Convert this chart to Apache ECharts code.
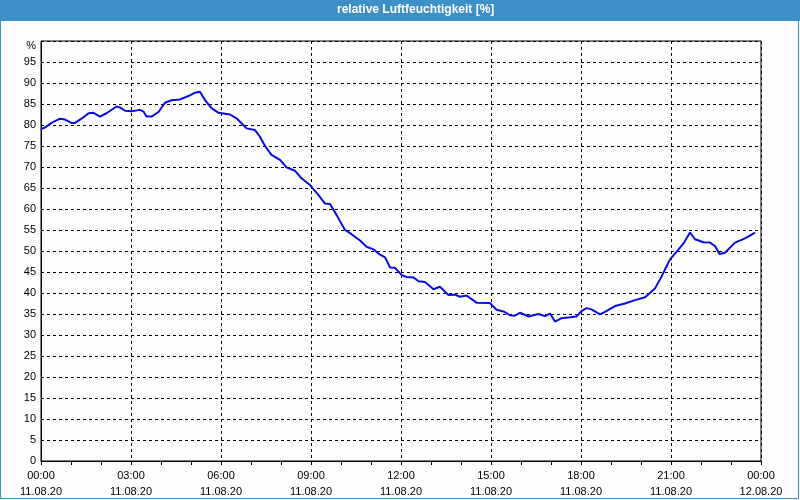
<!DOCTYPE html>
<html>
<head>
<meta charset="utf-8">
<script src="https://cdn.jsdelivr.net/npm/echarts@6/dist/echarts.min.js"></script>
<style>
html,body{margin:0;padding:0;background:#fdfefd;}
#c{width:800px;height:500px;}
</style>
</head>
<body>
<div id="c"></div>
<script>
// minutes since 11.08.20 00:00
var minutes = [0,8,21,38,48,61,68,81,95,105,118,131,151,158,168,181,198,205,211,221,235,248,261,278,295,308,318,328,341,355,368,378,391,401,411,428,438,448,461,478,491,508,521,538,555,568,578,591,608,621,638,651,665,675,688,698,708,721,731,745,755,768,785,798,815,828,838,851,871,898,911,925,938,948,958,975,995,1008,1018,1028,1041,1058,1071,1081,1091,1101,1118,1128,1148,1168,1188,1208,1228,1241,1258,1271,1285,1298,1308,1325,1338,1348,1357,1368,1388,1408,1428];
var humidity = [79.0,79.4,80.5,81.5,81.3,80.5,80.5,81.5,82.8,82.9,82.0,82.8,84.4,84.2,83.4,83.3,83.6,83.2,82.0,82.0,83.1,85.3,85.9,86.1,86.9,87.7,87.9,85.9,84.0,82.9,82.7,82.5,81.6,80.4,79.2,78.8,77.2,75.0,72.9,71.7,69.9,69.1,67.3,65.7,63.3,61.3,61.2,58.6,55.0,54.0,52.5,51.0,50.4,49.4,48.5,46.1,46.0,44.3,43.8,43.7,42.8,42.6,40.9,41.5,39.5,39.6,39.1,39.4,37.7,37.6,36.0,35.6,34.7,34.6,35.3,34.4,35.0,34.5,35.1,33.2,34.0,34.2,34.4,35.7,36.4,36.1,34.9,35.5,36.9,37.5,38.3,39.0,41.1,43.9,48.0,49.8,51.8,54.4,52.8,52.1,52.0,51.2,49.3,49.6,52.0,53.0,54.4];
var xTickLabels = ['00:00\n11.08.20','03:00\n11.08.20','06:00\n11.08.20','09:00\n11.08.20','12:00\n11.08.20','15:00\n11.08.20','18:00\n11.08.20','21:00\n11.08.20','00:00\n12.08.20'];
var titleText = 'relative Luftfeuchtigkeit [%]';
var yUnit = '%';

var seriesData = minutes.map(function(m, i){ return [m, humidity[i]]; });
var chart = echarts.init(document.getElementById('c'), null, {renderer:'canvas'});
var fontFam = '"Liberation Sans", Arial, sans-serif';
chart.setOption({
  animation: false,
  backgroundColor: '#fdfefd',
  graphic: [
    {type:'rect', shape:{x:0, y:0, width:800, height:21}, style:{fill:'#3d8fc7'}, z:0},
    {type:'rect', shape:{x:0.5, y:0.5, width:798, height:498}, style:{fill:'none', stroke:'#3d8fc7', lineWidth:1}, z:0},
    {type:'text', left:337, top:4, style:{text:titleText, fill:'#ffffff', font:'bold 12px ' + fontFam}, z:10}
  ],
  grid: {left:41, right:39, top:41, bottom:39, show:true, borderColor:'#000', borderWidth:1, backgroundColor:'transparent', z:3},
  xAxis: {
    type:'value', min:0, max:1440, interval:180,
    axisLine:{show:true, lineStyle:{color:'#000', width:1}},
    axisTick:{show:true, length:4, lineStyle:{color:'#000'}},
    minorTick:{show:true, splitNumber:3, length:4, lineStyle:{color:'#000'}},
    splitLine:{show:true, lineStyle:{color:'#000', type:[3,3], width:1}},
    axisLabel:{color:'#000', fontSize:11, fontFamily:'Liberation Sans', lineHeight:16, margin:7,
      formatter:function(v){ return xTickLabels[Math.round(v/180)]; }}
  },
  yAxis: {
    type:'value', min:0, max:100, interval:5,
    axisLine:{show:true, lineStyle:{color:'#000', width:1}},
    axisTick:{show:false},
    splitLine:{show:true, lineStyle:{color:'#000', type:[3,3], width:1}},
    axisLabel:{color:'#000', fontSize:11, fontFamily:'Liberation Sans', margin:5,
      formatter:function(v){ return v === 100 ? '{p|' + yUnit + '}' : String(v); },
      rich:{p:{fontSize:11, fontFamily:'Liberation Sans', color:'#000', padding:[10,0,0,0]}}}
  },
  series: [{
    type:'line', data:seriesData, showSymbol:false, symbol:'none',
    lineStyle:{color:'#0a0ae8', width:2}, z:5
  }]
});
</script>
</body>
</html>
